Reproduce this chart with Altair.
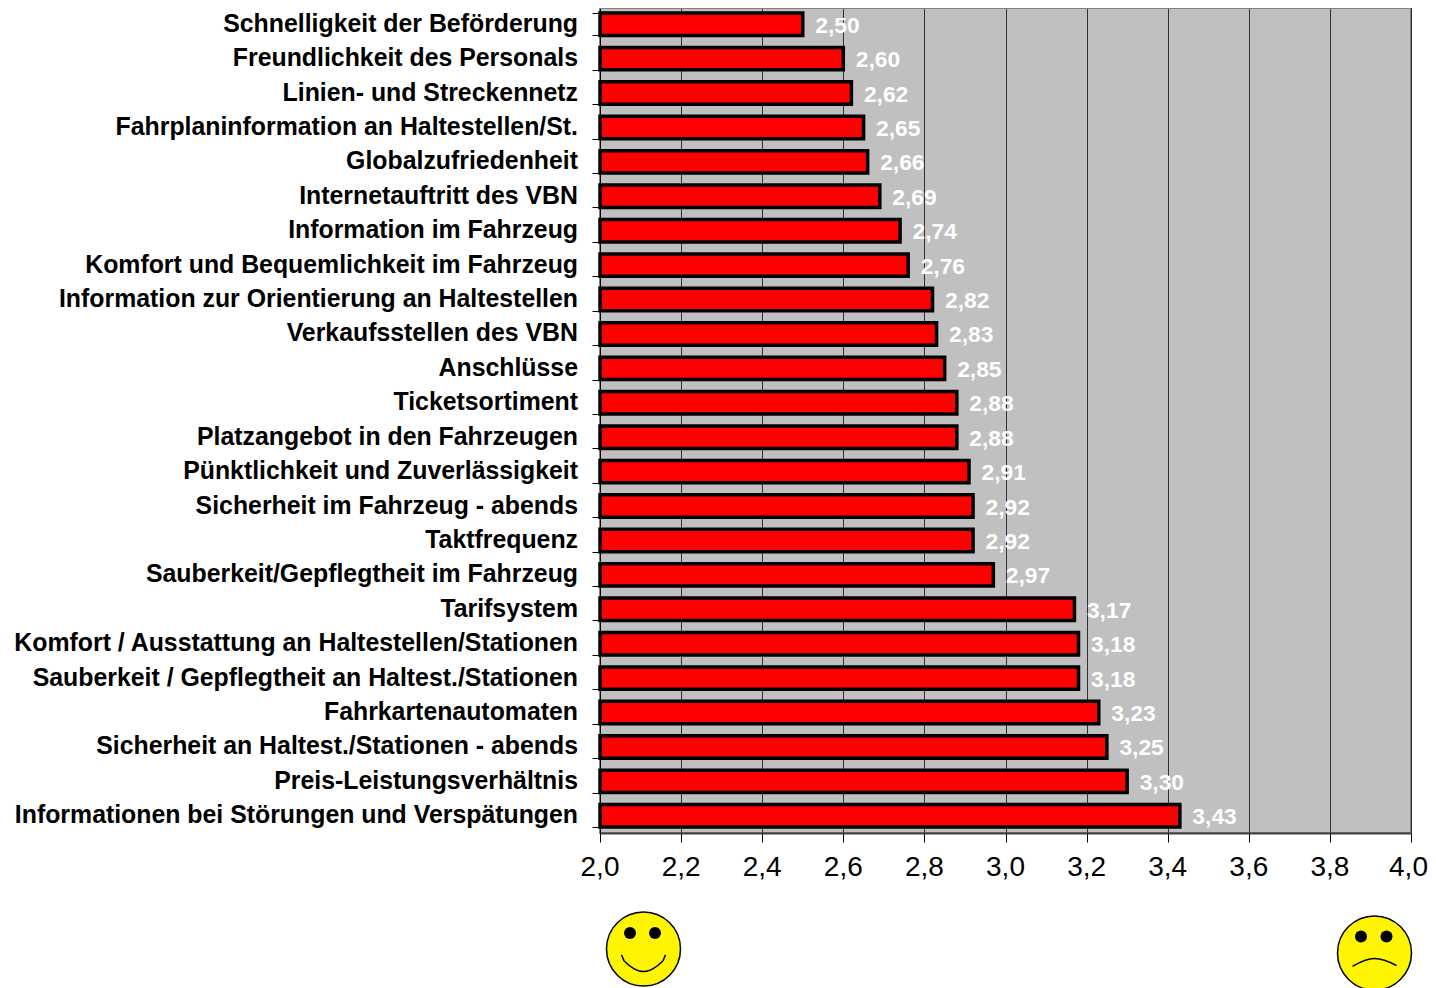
import altair as alt
import pandas as pd

categories = [
    "Schnelligkeit der Beförderung", "Freundlichkeit des Personals", "Linien- und Streckennetz",
    "Fahrplaninformation an Haltestellen/St.", "Globalzufriedenheit", "Internetauftritt des VBN",
    "Information im Fahrzeug", "Komfort und Bequemlichkeit im Fahrzeug",
    "Information zur Orientierung an Haltestellen", "Verkaufsstellen des VBN", "Anschlüsse",
    "Ticketsortiment", "Platzangebot in den Fahrzeugen", "Pünktlichkeit und Zuverlässigkeit",
    "Sicherheit im Fahrzeug - abends", "Taktfrequenz", "Sauberkeit/Gepflegtheit im Fahrzeug",
    "Tarifsystem", "Komfort / Ausstattung an Haltestellen/Stationen",
    "Sauberkeit / Gepflegtheit an Haltest./Stationen", "Fahrkartenautomaten",
    "Sicherheit an Haltest./Stationen - abends", "Preis-Leistungsverhältnis",
    "Informationen bei Störungen und Verspätungen",
]
values = [2.50, 2.60, 2.62, 2.65, 2.66, 2.69, 2.74, 2.76, 2.82, 2.83, 2.85, 2.88,
          2.88, 2.91, 2.92, 2.92, 2.97, 3.17, 3.18, 3.18, 3.23, 3.25, 3.30, 3.43]
x_ticks = [2.0, 2.2, 2.4, 2.6, 2.8, 3.0, 3.2, 3.4, 3.6, 3.8, 4.0]

df = pd.DataFrame({"cat": categories, "val": values})
df["lab"] = [f"{v:.2f}".replace(".", ",") for v in values]

FONT = "Liberation Sans"
W, H = 811, 826
x_enc = alt.X("val:Q", scale=alt.Scale(domain=[2, 4], nice=False, zero=False, clamp=False),
    axis=alt.Axis(values=x_ticks, title=None, labelExpr="replace(format(datum.value,'.1f'),'.',',')",
                  labelFont=FONT, labelFontSize=28, labelColor="#000000", labelPadding=11,
                  labelOffset=alt.ExprRef("datum.value == 4 ? -3 : -0.5"),
                  labelFlush=False, labelOverlap=False, tickSize=9, tickColor="#000000", tickWidth=1,
                  domainColor="#404040", domainWidth=2,
                  grid=True, gridColor="#303030", gridWidth=1))
y_enc = alt.Y("cat:N", sort=categories, scale=alt.Scale(paddingInner=0.35, paddingOuter=0.175),
    axis=alt.Axis(title=None, labelFont=FONT, labelFontSize=24.85, labelFontWeight="bold",
                  labelColor="#000000", labelLimit=600, labelPadding=14.5, labelOffset=0, tickSize=8, tickBand="extent",
                  tickColor="#000000", tickWidth=1, domainColor="#000000", domainWidth=1,
                  grid=False, labelOverlap=False))

bars = alt.Chart(df).mark_bar(color="#FF0000", stroke="#000000", strokeWidth=3.5).encode(x=x_enc, y=y_enc, x2=alt.datum(2))
text = alt.Chart(df).mark_text(align="left", baseline="middle", dx=12.5, dy=1.5, font=FONT, fontSize=22.8,
                               fontWeight="bold", color="#FFFFFF").encode(x=alt.X("val:Q"), y=alt.Y("cat:N", sort=categories), text="lab:N")

one = alt.Data(values=[{"k": 1}])
top_edge = alt.Chart(one).mark_rule(color="#808080", strokeWidth=2).encode(
    x=alt.value(0), x2=alt.value(W), y=alt.value(1))
def circ(px, py, d, fill, stroke=True):
    kw = dict(stroke="#000000", strokeWidth=1.5) if stroke else dict(strokeWidth=0)
    return alt.Chart(one).mark_point(shape="circle", size=d * d, filled=True, fill=fill, opacity=1, **kw).encode(
        x=alt.value(px - 600), y=alt.value(py - 7))
def mouth(px, py, w, path):
    return alt.Chart(one).mark_point(shape=path, size=w * w, opacity=1, stroke="#000000", strokeWidth=1.5).encode(
        x=alt.value(px - 600), y=alt.value(py - 7))

smile = "M-1,-0.28 L-0.88,0.0 Q-0.4,0.48 0,0.48 Q0.4,0.48 0.88,0.0 L1,-0.28"
frown = "M-1,0.2 Q-0.4,-0.16 0,-0.16 Q0.4,-0.16 1,0.16"
faces = [
    circ(643.5, 949, 74, "#FFF500"), circ(630, 933, 12, "#000000", False), circ(655, 933, 12, "#000000", False),
    mouth(643.5, 961, 44, smile),
    circ(1374.5, 953, 74, "#FFF500"), circ(1361, 936.5, 12, "#000000", False), circ(1386.5, 936.5, 12, "#000000", False),
    mouth(1374.5, 962, 44, frown),
]

chart = alt.layer(bars, text, top_edge, *faces).properties(
    width=W, height=H,
    autosize=alt.AutoSizeParams(type="none"),
    padding={"left": 592, "top": -1, "right": 17, "bottom": 155},
).configure_view(fill="#C0C0C0", stroke="#808080", strokeWidth=2)

chart.save("out.html", embed_options={"renderer": "svg", "actions": False})
